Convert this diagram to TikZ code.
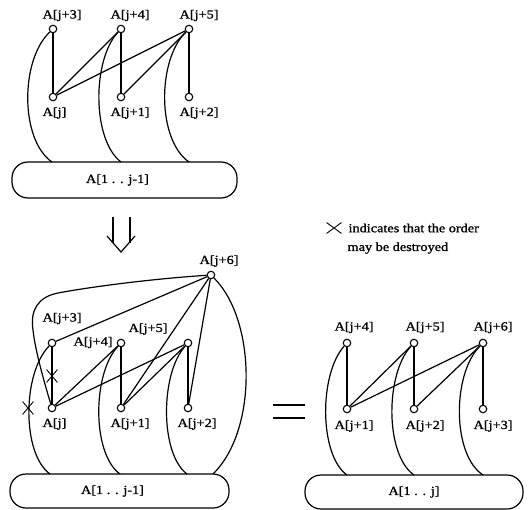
\documentclass[tikz,border=0pt]{standalone}
\usepackage{fontspec}
\setmainfont{Liberation Serif}[FakeStretch=1.15,FakeBold=1.2]
\usetikzlibrary{shapes.misc}
\begin{document}
\begin{tikzpicture}[x=1pt,y=-1pt,line width=1.2pt,
  vtx/.style={circle,draw,line width=1.1pt,minimum size=7.5pt,inner sep=0pt},
  lbl/.style={font=\fontsize{12.4}{14}\selectfont,inner sep=0pt,anchor=west},
  bigbox/.style={draw,line width=1.2pt,rounded corners=16pt,inner sep=0pt,font=\fontsize{12.4}{14}\selectfont},
  xmark/.style={cross out,draw,line width=0.9pt,inner sep=0pt,minimum width=10pt,minimum height=12pt}]
\useasboundingbox (0,0) rectangle (529,510);

% ---------- top diagram ----------
\node[vtx] (T3) at (53,29) {};
\node[vtx] (T4) at (121,29) {};
\node[vtx] (T5) at (189,29) {};
\node[vtx] (Tj) at (53,97) {};
\node[vtx] (Tj1) at (121,97) {};
\node[vtx] (Tj2) at (189,97) {};
\node[lbl] (lT3) at (42,15.5) {A[j+3]};
\node[lbl] (lT4) at (110,15.5) {A[j+4]};
\node[lbl] (lT5) at (179,15.5) {A[j+5]};
\node[lbl] (lTj) at (42,113) {A[j]};
\node[lbl] (lTj1) at (110,113) {A[j+1]};
\node[lbl] (lTj2) at (179,113) {A[j+2]};
\node[bigbox,minimum width=225pt,minimum height=36pt] (tbox) at (124.5,180) {A[1 . . j-1]\hspace*{14pt}};
\coordinate (tb3) at (52,162);
\coordinate (tb4) at (121,162);
\coordinate (tb5) at (189,162);
\draw (T3) -- (Tj);
\draw (T4) -- (Tj);
\draw (T4) -- (Tj1);
\draw (T5) -- (Tj);
\draw (T5) -- (Tj1);
\draw (T5) -- (Tj2);
\draw (T3) .. controls (20,60) and (20,140) .. (tb3);
\draw (T4) .. controls (92,60) and (92,140) .. (tb4);
\draw (T5) .. controls (157,60) and (157,140) .. (tb5);

% ---------- arrow ----------
\draw (113,217) -- (113,243);
\draw (130,217) -- (130,243);
\draw (107,236) -- (121,252) -- (135,236);

% ---------- legend ----------
\node[xmark,minimum width=14pt,minimum height=10pt] (lx) at (334,228) {};
\node[lbl] (leg1) at (348,228) {indicates that the order};
\node[lbl] (leg2) at (347,248) {may be destroyed};

% ---------- bottom-left diagram ----------
\node[vtx] (B6) at (211,275) {};
\node[vtx] (B3) at (52,343) {};
\node[vtx] (B4) at (121,343) {};
\node[vtx] (B5) at (188,343) {};
\node[vtx] (Bj) at (52,408) {};
\node[vtx] (Bj1) at (121,408) {};
\node[vtx] (Bj2) at (188,408) {};
\node[lbl] (lB6) at (199,261) {A[j+6]};
\node[lbl] (lB3) at (42,318.5) {A[j+3]};
\node[lbl] (lB4) at (73,342.5) {A[j+4]};
\node[lbl] (lB5) at (128,329) {A[j+5]};
\node[lbl] (lBj) at (42,424) {A[j]};
\node[lbl] (lBj1) at (110,424) {A[j+1]};
\node[lbl] (lBj2) at (177,424) {A[j+2]};
\node[bigbox,minimum width=219pt,minimum height=34pt] (bbox) at (119.5,491) {A[1 . . j-1]\hspace*{14pt}};
\coordinate (bb3) at (50,474);
\coordinate (bb4) at (120,474);
\coordinate (bb5) at (187,474);
\coordinate (bb6) at (213,474);
\draw (B3) -- (Bj);
\draw (B4) -- (Bj);
\draw (B4) -- (Bj1);
\draw (B5) -- (Bj);
\draw (B5) -- (Bj1);
\draw (B5) -- (Bj2);
\draw (B6) -- (B3);
\draw (B6) -- (Bj1);
\draw (B6) -- (Bj2);
\draw (B3) .. controls (22,374) and (22,454) .. (bb3);
\draw (B4) .. controls (92,374) and (92,454) .. (bb4);
\draw (B5) .. controls (160,374) and (160,454) .. (bb5);
\draw (B6) .. controls (256,320) and (258,430) .. (bb6);
\draw (B6) .. controls (150,279) and (90,287) .. (58,293)
      .. controls (38,297) and (30,310) .. (33,330)
      .. controls (35,350) and (45,385) .. (Bj);
\node[xmark] (x1) at (52,376) {};
\node[xmark] (x2) at (28,408) {};

% ---------- equals ----------
\draw (273,405) -- (305,405);
\draw (273,418) -- (305,418);

% ---------- right diagram ----------
\node[vtx] (R4) at (347,343) {};
\node[vtx] (R5) at (414,343) {};
\node[vtx] (R6) at (483,343) {};
\node[vtx] (Rj1) at (347,409) {};
\node[vtx] (Rj2) at (414,409) {};
\node[vtx] (Rj3) at (483,409) {};
\node[lbl] (lR4) at (334,327.5) {A[j+4]};
\node[lbl] (lR5) at (405,327.5) {A[j+5]};
\node[lbl] (lR6) at (473,327.5) {A[j+6]};
\node[lbl] (lRj1) at (334,426) {A[j+1]};
\node[lbl] (lRj2) at (405,426) {A[j+2]};
\node[lbl] (lRj3) at (473,426) {A[j+3]};
\node[bigbox,minimum width=218pt,minimum height=34pt] (rbox) at (414,492) {A[1 . . j]};
\coordinate (rb4) at (347,475);
\coordinate (rb5) at (414,475);
\coordinate (rb6) at (483,475);
\draw (R4) -- (Rj1);
\draw (R5) -- (Rj1);
\draw (R5) -- (Rj2);
\draw (R6) -- (Rj1);
\draw (R6) -- (Rj2);
\draw (R6) -- (Rj3);
\draw (R4) .. controls (319,374) and (319,455) .. (rb4);
\draw (R5) .. controls (385,374) and (385,455) .. (rb5);
\draw (R6) .. controls (452,374) and (452,455) .. (rb6);
\end{tikzpicture}
\end{document}
